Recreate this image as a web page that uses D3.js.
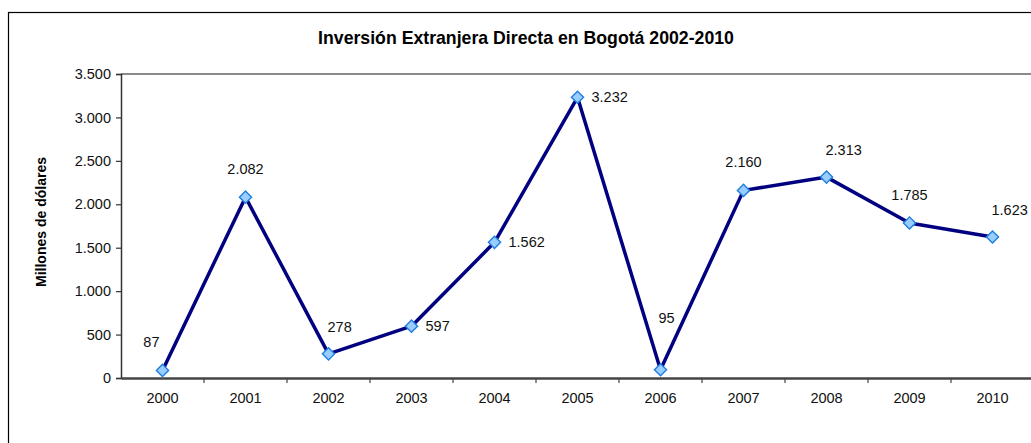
<!DOCTYPE html>
<html>
<head>
<meta charset="utf-8">
<script src="https://cdn.jsdelivr.net/npm/d3@7"></script>
<style>
  html, body { margin: 0; padding: 0; background: #fff; }
  svg { display: block; font-family: "Liberation Sans", Arial, sans-serif; }
</style>
</head>
<body>
<svg id="chart" width="1031" height="443"></svg>
<script>
// Foreign direct investment in Bogotá, millions of US dollars
const years = ["2000", "2001", "2002", "2003", "2004", "2005", "2006", "2007", "2008", "2009", "2010"];
const values = [87, 2082, 278, 597, 1562, 3232, 95, 2160, 2313, 1785, 1623];
const yTicks = [0, 500, 1000, 1500, 2000, 2500, 3000, 3500];
const title = "Inversión Extranjera Directa en Bogotá 2002-2010";
const yTitle = "Millones de dólares";

// where each value label sits relative to its marker
const labelPlacement = ["aboveLeft", "above", "aboveRight", "right", "right", "right",
                        "high", "above", "aboveRight", "above", "aboveRight"];

const fmt = d3.formatLocale({ decimal: ",", thousands: ".", grouping: [3], currency: ["", ""] }).format(",d");

const svg = d3.select("#chart");
const plot = { left: 121, right: 1034, top: 74, bottom: 378 };
const FONT = "Liberation Sans, Arial, sans-serif";

// outer chart frame
svg.append("rect")
  .attr("x", 8.5).attr("y", 12.5)
  .attr("width", 1040).attr("height", 450)
  .attr("fill", "#fff").attr("stroke", "#000").attr("stroke-width", 1.2);

const x = d3.scaleBand().domain(years).range([plot.left, plot.right]).padding(0);
const y = d3.scaleLinear().domain([0, 3500]).range([plot.bottom, plot.top]);

// title
svg.append("text")
  .attr("x", 526).attr("y", 43.5)
  .attr("text-anchor", "middle")
  .attr("font-size", 17.7).attr("font-weight", "bold")
  .attr("fill", "#000")
  .text(title);

// plot area top edge
svg.append("line")
  .attr("x1", plot.left).attr("x2", plot.right)
  .attr("y1", plot.top).attr("y2", plot.top)
  .attr("stroke", "#8a8a8a").attr("stroke-width", 2);

// y axis
const yAxis = svg.append("g")
  .attr("transform", `translate(${plot.left},0)`)
  .call(d3.axisLeft(y).tickValues(yTicks).tickSize(5).tickPadding(5).tickFormat(fmt));
yAxis.select(".domain").attr("stroke", "#333").attr("stroke-width", 1.5);
yAxis.selectAll(".tick line").attr("stroke", "#333").attr("stroke-width", 1.2);
yAxis.selectAll(".tick text")
  .attr("font-size", 14.5).attr("fill", "#111").attr("font-family", FONT);

// x axis with ticks between categories
const xAxis = svg.append("g")
  .attr("transform", `translate(0,${plot.bottom})`)
  .call(d3.axisBottom(x).tickSize(0).tickPadding(15));
xAxis.select(".domain").attr("stroke", "#444").attr("stroke-width", 2.5);
xAxis.selectAll(".tick text")
  .attr("font-size", 14.5).attr("fill", "#111").attr("font-family", FONT);
svg.append("g").selectAll("line")
  .data(years.slice(1))
  .join("line")
  .attr("x1", d => x(d)).attr("x2", d => x(d))
  .attr("y1", plot.bottom).attr("y2", plot.bottom + 5)
  .attr("stroke", "#444").attr("stroke-width", 1.2);

// y axis title
svg.append("text")
  .attr("transform", `translate(46,222) rotate(-90)`)
  .attr("text-anchor", "middle")
  .attr("font-size", 14).attr("font-weight", "bold")
  .attr("fill", "#000")
  .text(yTitle);

const cx = i => x(years[i]) + x.bandwidth() / 2;

// series line
const line = d3.line().x((d, i) => cx(i)).y(d => y(d));
svg.append("path")
  .datum(values)
  .attr("d", line)
  .attr("fill", "none")
  .attr("stroke", "#000080")
  .attr("stroke-width", 3.5)
  .attr("stroke-linejoin", "round");

// diamond markers
svg.append("g").selectAll("path")
  .data(values)
  .join("path")
  .attr("transform", (d, i) => `translate(${cx(i)},${y(d)}) rotate(45)`)
  .attr("d", "M-4.3,-4.3H4.3V4.3H-4.3Z")
  .attr("fill", "#99CCFF")
  .attr("stroke", "#1f7fe0")
  .attr("stroke-width", 1.4);

// value labels
const offsets = {
  above:      { dx: 0,  dy: -28, anchor: "middle" },
  aboveLeft:  { dx: -3, dy: -29, anchor: "end" },
  aboveRight: { dx: -1, dy: -27, anchor: "start" },
  high:       { dx: -2, dy: -52, anchor: "start" },
  right:      { dx: 14, dy: 0,   anchor: "start" }
};
svg.append("g").selectAll("text")
  .data(values)
  .join("text")
  .attr("x", (d, i) => cx(i) + offsets[labelPlacement[i]].dx)
  .attr("y", (d, i) => y(d) + offsets[labelPlacement[i]].dy)
  .attr("dy", "0.35em")
  .attr("text-anchor", (d, i) => offsets[labelPlacement[i]].anchor)
  .attr("font-size", 14.5)
  .attr("fill", "#111")
  .text(d => fmt(d));
</script>
</body>
</html>
